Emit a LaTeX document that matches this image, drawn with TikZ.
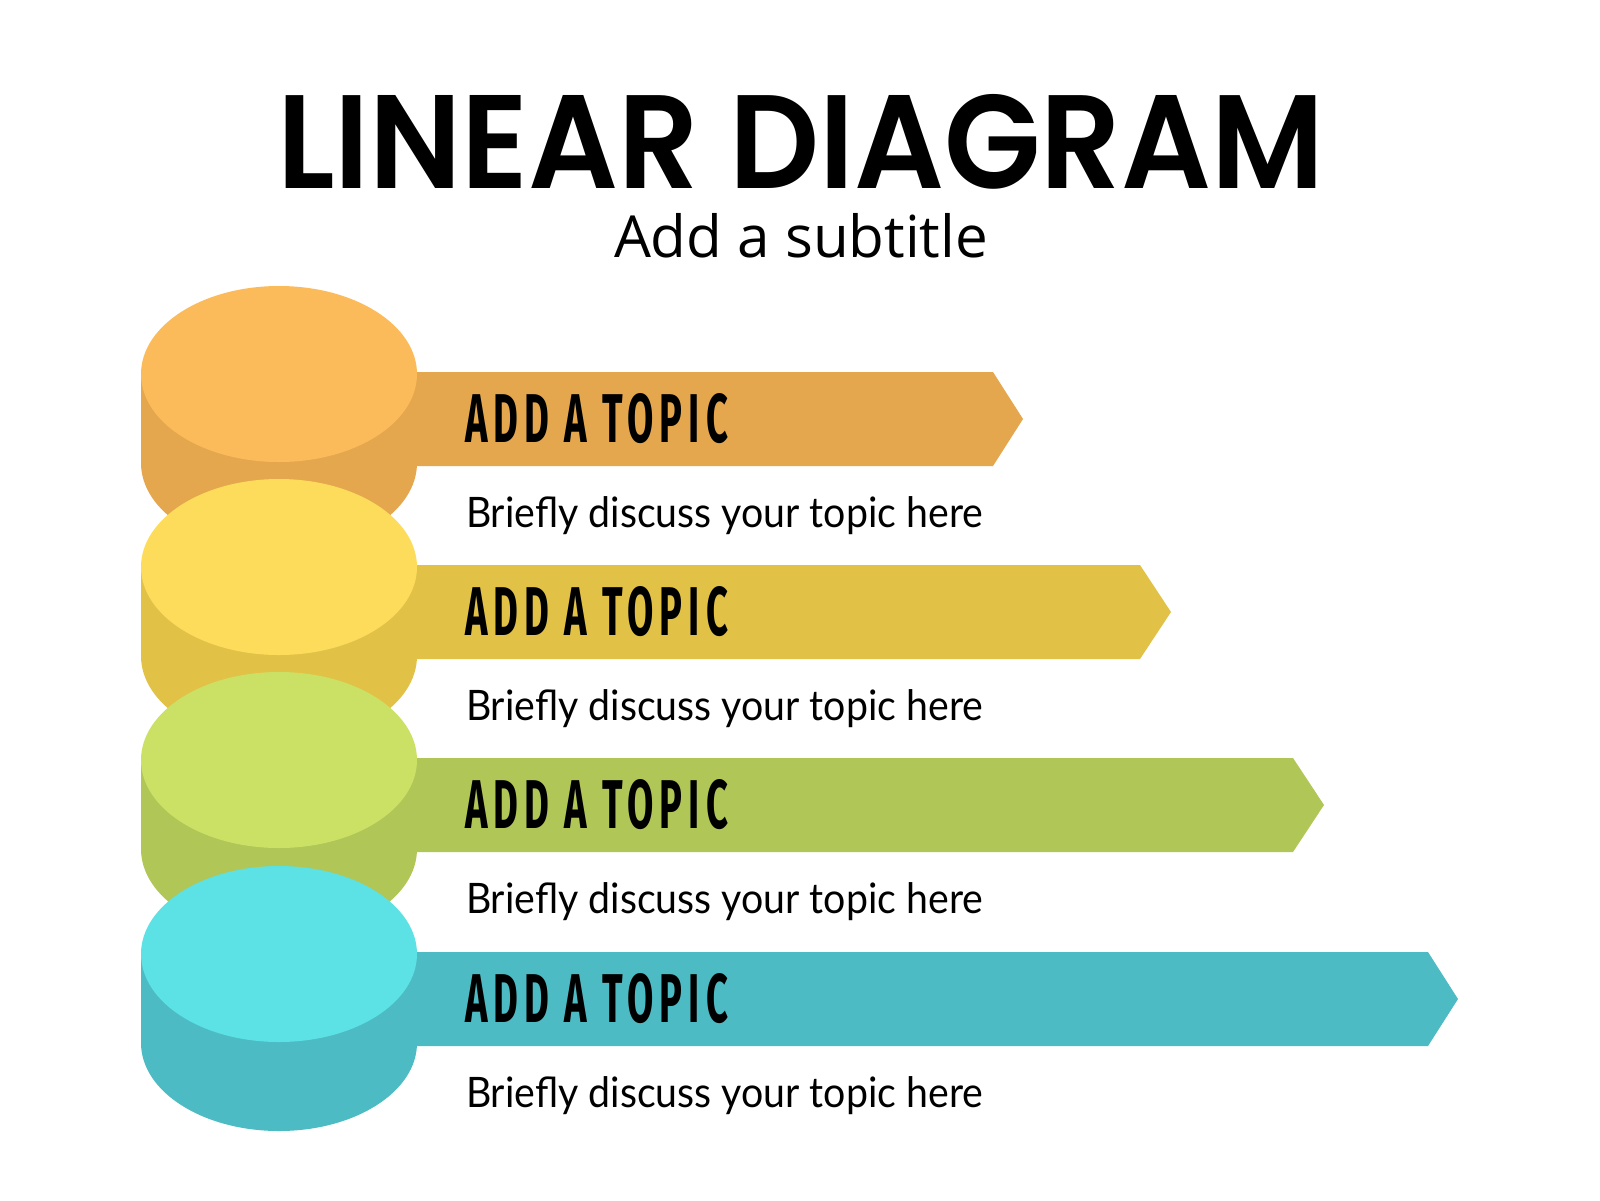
\documentclass[tikz,border=0pt]{standalone}
\usepackage{fontspec}
\usepackage{graphicx}
\newfontfamily\titlefont{Poppins SemiBold}
\newfontfamily\subfont{Open Sans}
\newfontfamily\topicfont{Fira Sans}[LetterSpace=16]
\newfontfamily\bodyfont{Lato}
\definecolor{oTop}{HTML}{FCBB5A}\definecolor{oSide}{HTML}{E4A74D}
\definecolor{yTop}{HTML}{FDDC5B}\definecolor{ySide}{HTML}{E1C247}
\definecolor{gTop}{HTML}{CBE165}\definecolor{gSide}{HTML}{B0C656}
\definecolor{cTop}{HTML}{5CE1E5}\definecolor{cSide}{HTML}{4CBBC3}
\tikzset{
  txt/.style={inner sep=0pt, outer sep=0pt, anchor=base west, text=black},
}
\newcommand{\stepitem}[6]{% #1 name, #2 cy, #3 top colour, #4 side colour, #5 body end x, #6 tip x
  \fill[#4] (279,#2-2) -- (#5,#2-2) -- (#6,#2+45) -- (#5,#2+92) -- (279,#2+92) -- cycle;
  \fill[#4] (141,#2) rectangle (417,#2+89);
  \fill[#4] (279,#2+89) ellipse [x radius=138pt, y radius=88pt];
  \fill[#3] (279,#2) ellipse [x radius=138pt, y radius=88pt];
  \node[txt] (#1topic) at (465,#2+68) {\resizebox{263pt}{49pt}{\topicfont\bfseries ADD A TOPIC}};
  \node[txt] (#1body) at (466,#2+153) {\resizebox{517pt}{\height}{\bodyfont\fontsize{42}{48}\selectfont Briefly discuss your topic here}};
}
\begin{document}
\begin{tikzpicture}[x=1pt,y=-1pt]
\useasboundingbox (0,0) rectangle (1600,1200);
\fill[white] (0,0) rectangle (1600,1200);
\node[txt] (title) at (277,188) {\resizebox{1046pt}{94pt}{\titlefont LINEAR DIAGRAM}};
\node[txt] (subtitle) at (614,257) {\resizebox{374pt}{\height}{\subfont\fontsize{58}{64}\selectfont Add a subtitle}};
\stepitem{a}{374}{oTop}{oSide}{993}{1023}
\stepitem{b}{567}{yTop}{ySide}{1140}{1171}
\stepitem{c}{760}{gTop}{gSide}{1293}{1324}
\stepitem{d}{954}{cTop}{cSide}{1428}{1458}
\end{tikzpicture}
\end{document}
